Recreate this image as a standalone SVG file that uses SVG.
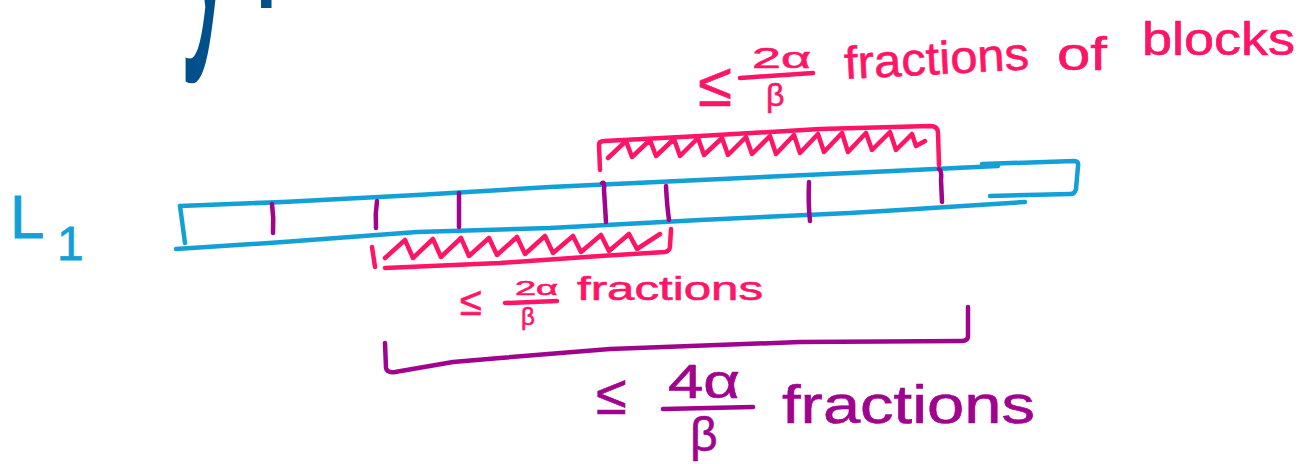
<svg xmlns="http://www.w3.org/2000/svg" width="1300" height="464" viewBox="0 0 1300 464">
<defs>
<style>
.blue{fill:none;stroke:#12a0d7;stroke-width:4.5;stroke-linecap:round;stroke-linejoin:round}
.pink{fill:none;stroke:#ff1466;stroke-width:4.5;stroke-linecap:round;stroke-linejoin:round}
.purple{fill:none;stroke:#a0048e;stroke-width:4.5;stroke-linecap:round;stroke-linejoin:round}
.tp{font-family:"Liberation Sans",Arial,sans-serif;fill:#ff1466;stroke:#ff1466;stroke-width:0.6}
.tu{font-family:"Liberation Sans",Arial,sans-serif;fill:#a0048e;stroke:#a0048e;stroke-width:0.6}
.tb{font-family:"Liberation Sans",Arial,sans-serif;fill:#12a0d7;stroke:#12a0d7;stroke-width:0.8}
.td{font-family:"Liberation Sans",Arial,sans-serif;fill:#00508c}
</style>
</defs>
<rect width="1300" height="464" fill="#ffffff"/>

<g id="heading-fragment">
<text class="td" font-size="110" transform="translate(182,8) scale(1,3.3)">y<tspan dx="14">:</tspan></text>
</g>

<g id="label-L1">
<text class="tb" x="10" y="238" font-size="62">L</text>
<text class="tb" x="57" y="260" font-size="48">1</text>
</g>

<g id="bar-L1">
<path class="blue" d="M180,206 L283,202 L417,195 L550,187 L700,180 L850,173 L998,166"/>
<path class="blue" d="M982,164 L1074,161 Q1079,161 1078,166 L1076,189 Q1075,194 1070,194 L990,196"/>
<path class="blue" d="M180,206 L185,243"/>
<path class="blue" d="M176,249 L283,242 L417,232 L550,228 L700,220 L850,213 L900,210 L1025,202"/>
</g>

<g id="ticks">
<path class="purple" d="M272,204 Q274,218 273,233"/>
<path class="purple" d="M377,201 Q375,214 376,228"/>
<path class="purple" d="M459,193 L459,227"/>
<path class="purple" d="M602,183 Q605,181 604,190 L606,222"/>
<path class="purple" d="M666,186 Q667,206 669,220"/>
<path class="purple" d="M809,182 Q808,203 810,221"/>
<path class="purple" d="M939,169 Q942,171 941,180 L942,202"/>
</g>

<g id="connectors">
<g id="bracket-upper">
<path class="pink" d="M600,170 L599,145 Q599,141 604,141 L700,136 L820,129 L930,126 Q938,126 938,133 L939,165"/>
<polyline class="pink" points="608,158 626,141 632,157 650,140 656,156 674,139 680,156 698,138 704,155 722,138 728,155 746,137 752,154 770,136 776,154 794,135 800,153 818,134 824,152 842,133 848,152 866,133 872,150 890,132 896,150 912,134 916,146 925,141"/>
</g>
<g id="bracket-lower">
<path class="pink" d="M372,247 L375,267"/>
<path class="pink" d="M385,268 L500,263 L600,256 L665,252 Q670,251 670,246 L671,229"/>
<polyline class="pink" points="385,258 405,240 413,258 433,239 441,257 461,238 469,256 489,238 497,255 517,237 525,254 545,236 553,253 573,236 581,252 601,235 609,251 629,234 637,249 660,234"/>
</g>
<g id="bracket-total">
<path class="purple" d="M385,343 L386,368 Q387,373 395,372 L453,362 L500,358 L610,349 L800,342 L962,341 Q968,341 968,336 L968,307"/>
</g>
</g>

<g id="label-upper">
<text class="tp" x="698" y="106" font-size="62">≤</text>
<text class="tp" x="752" y="68" font-size="30" textLength="59" lengthAdjust="spacingAndGlyphs">2α</text>
<path class="pink" d="M740,78 L813,73"/>
<text class="tp" x="766" y="106" font-size="32">β</text>
<text class="tp" x="845" y="79" font-size="46" textLength="185" lengthAdjust="spacingAndGlyphs" transform="rotate(-3 845 79)">fractions</text>
<text class="tp" x="1057" y="70" font-size="46" textLength="50" lengthAdjust="spacingAndGlyphs">of</text>
<text class="tp" x="1142" y="55" font-size="46" textLength="153" lengthAdjust="spacingAndGlyphs">blocks</text>
</g>

<g id="label-lower">
<text class="tp" x="460" y="315" font-size="40">≤</text>
<text class="tp" x="515" y="295" font-size="21" textLength="43" lengthAdjust="spacingAndGlyphs">2α</text>
<path class="pink" d="M505,303 L557,301"/>
<text class="tp" x="521" y="325" font-size="24">β</text>
<text class="tp" x="577" y="300" font-size="34" textLength="186" lengthAdjust="spacingAndGlyphs">fractions</text>
</g>

<g id="label-total">
<text class="tu" x="596" y="414" font-size="56">≤</text>
<text class="tu" x="668" y="398" font-size="48" textLength="72" lengthAdjust="spacingAndGlyphs">4α</text>
<path class="purple" d="M663,409 L753,407"/>
<text class="tu" x="690" y="451" font-size="48">β</text>
<text class="tu" x="782" y="423" font-size="54" textLength="253" lengthAdjust="spacingAndGlyphs">fractions</text>
</g>
</svg>
